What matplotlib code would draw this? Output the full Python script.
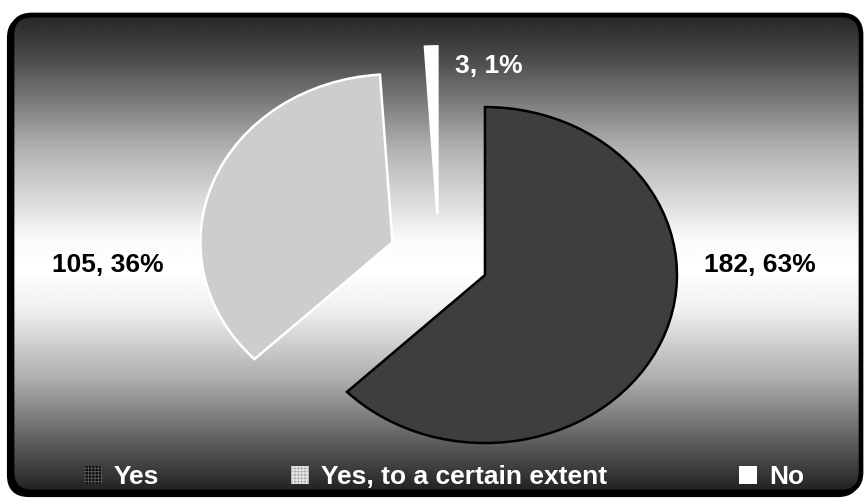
import numpy as np
import matplotlib
matplotlib.use("Agg")
import matplotlib.pyplot as plt
from matplotlib.patches import FancyBboxPatch, Patch, PathPatch

plt.rcParams['font.family'] = ['Liberation Sans', 'DejaVu Sans']
plt.rcParams['hatch.linewidth'] = 0.6

# datos
categorias = ['Yes', 'Yes, to a certain extent', 'No']
respuestas = [182, 105, 3]

colores_fondo = ['#222222', '#f6f6f6', '#ffffff']   # relleno de cada porcion
colores_trama = ['#3e3e3e', '#cdcdcd', '#ffffff']   # puntos de la trama
colores_borde = ['black', 'white', 'white']

W, H = 866, 500
fig = plt.figure(figsize=(W / 100, H / 100), dpi=100)

# fondo: rectangulo redondeado con degradado vertical (oscuro-blanco-oscuro)
ax_bg = fig.add_axes([0, 0, 1, 1])
ax_bg.set_xlim(0, W)
ax_bg.set_ylim(H, 0)
ax_bg.axis('off')

x0, y0, x1, y1 = 12, 15, 861, 492
sombra = FancyBboxPatch((x0 - 3, y0 + 3), x1 - x0, y1 - y0,
                        boxstyle='round,pad=0,rounding_size=20',
                        fc='black', ec='black', lw=3, zorder=1)
ax_bg.add_patch(sombra)
caja = FancyBboxPatch((x0, y0), x1 - x0, y1 - y0,
                      boxstyle='round,pad=0,rounding_size=20',
                      fc='none', ec='black', lw=3.4, zorder=3)
ax_bg.add_patch(caja)

yy = np.linspace(0, H, 500)
gris = np.interp(yy, [y0, 60, 150, 240, 270, 310, 380, 440, y1],
                 [0.15, 0.30, 0.70, 0.98, 1.0, 0.94, 0.68, 0.38, 0.13])
grad = np.tile(gris[:, None], (1, 2))
img = ax_bg.imshow(grad, cmap='gray', vmin=0, vmax=1, aspect='auto',
                   extent=(0, W, H, 0), zorder=2, interpolation='bilinear')
clip = FancyBboxPatch((x0, y0), x1 - x0, y1 - y0,
                      boxstyle='round,pad=0,rounding_size=20',
                      fc='none', ec='none', transform=ax_bg.transData)
img.set_clip_path(clip)

# torta
ax = fig.add_axes([0, 0, 1, 1])
ax.patch.set_alpha(0)
explotar = [0.26] * len(respuestas)
wedges, _ = ax.pie(respuestas, explode=explotar, startangle=90, counterclock=False,
                   radius=1, wedgeprops=dict(lw=0))
for w, fc, hc in zip(wedges, colores_fondo, colores_trama):
    w.set_facecolor(fc)
    w.set_edgecolor(hc)
    w.set_hatch('+' * 18)
    w.set_linewidth(0)
    w.set_zorder(2)

# contorno de cada porcion, sin trama
for w, ec in zip(wedges, colores_borde):
    borde = PathPatch(w.get_path(), transform=w.get_transform(),
                      fc='none', ec=ec, lw=1.8, zorder=3)
    ax.add_patch(borde)

# centro del pie en (439, 258) px, radio 192 px horizontal y 168 px vertical
cx, cy, rx, ry = 439, 258, 192, 168
ax.set_aspect('auto')
ax.set_xlim(-cx / rx, (W - cx) / rx)
ax.set_ylim((cy - H) / ry, cy / ry)
ax.axis('off')

# etiquetas "valor, porcentaje"
total = sum(respuestas)
pos_etiquetas = [(1.672, -0.042), (-1.724, -0.042), (0.26, 1.143)]
color_etiquetas = ['black', 'black', 'white']
for v, (px, py), c in zip(respuestas, pos_etiquetas, color_etiquetas):
    ax.text(px, py, f'{v}, {round(100 * v / total)}%', ha='center', va='center',
            fontsize=19, fontweight='bold', color=c)

# leyenda abajo
handles = [Patch(facecolor=fc, edgecolor=hc, hatch='+' * 5, lw=0)
           for fc, hc in zip(['#0e0e0e', '#ececec', '#ffffff'], ['#5a5a5a', '#b0b0b0', '#ffffff'])]
leg = ax.legend(handles, categorias, loc='center', bbox_to_anchor=(444 / W, 1 - 477 / H),
                ncol=3, frameon=False, columnspacing=5.0,
                handlelength=0.68, handleheight=0.68, handletextpad=0.45,
                prop=dict(weight='bold', size=19))
for t in leg.get_texts():
    t.set_color('white')

fig.savefig('out.png', dpi=100)
